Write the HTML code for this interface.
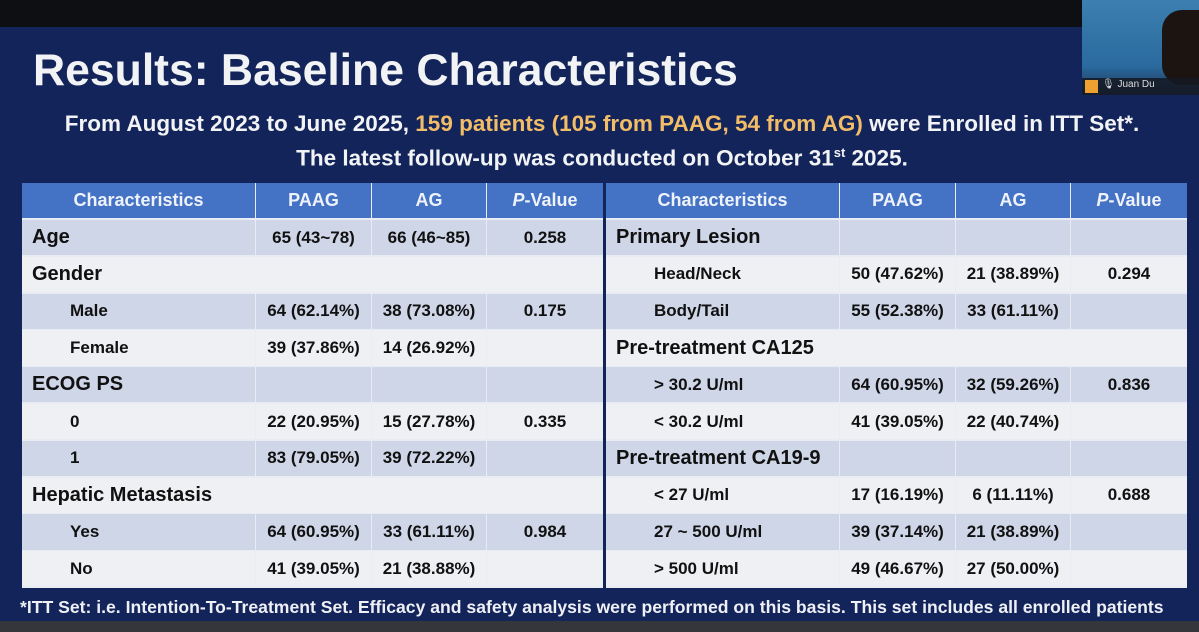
<!DOCTYPE html>
<html><head><meta charset="utf-8"><style>
*{margin:0;padding:0;box-sizing:border-box}
body{width:1199px;height:632px;overflow:hidden;background:#13245a;font-family:"Liberation Sans",sans-serif;position:relative}
.abs{position:absolute}
.topbar{left:0;top:0;width:1199px;height:27px;background:#0e0f12}
.bottom{left:0;top:621px;width:1199px;height:11px;background:#34363c}
.title{left:33px;top:46px;font-size:44.5px;font-weight:bold;color:#f2f3f5;white-space:nowrap}
.sub{left:0;width:1204px;text-align:center;font-size:22.5px;font-weight:bold;color:#f2f3f5;white-space:nowrap}
.y{color:#f2bd68}
.tbl{top:183px;width:581px;height:405px;background:#e9ecf3}
.cell{position:absolute;font-size:17px;font-weight:bold;color:#111;display:flex;align-items:center;justify-content:center;white-space:nowrap}
.hdr{background:#4472c4;color:#eef2fa;font-size:18px}
.foot{left:20px;top:597px;font-size:17.6px;font-weight:bold;color:#eef0f5;white-space:nowrap}
.cam{left:1082px;top:0;width:117px;height:95px;background:linear-gradient(180deg,#3d7fb0,#2a6a9e 70%,#1e3350);}
</style></head><body>
<div class="abs topbar"></div>
<div class="abs title">Results: Baseline Characteristics</div>
<div class="abs sub" style="top:111px">From August 2023 to June 2025, <span class="y">159 patients (105 from PAAG, 54 from AG)</span> were Enrolled in ITT Set*.</div>
<div class="abs sub" style="top:145px">The latest follow-up was conducted on October 31<sup style="font-size:13px">st</sup> 2025.</div>
<div class="abs cam">
  <div class="abs" style="left:80px;top:10px;width:40px;height:75px;background:#1b1410;border-radius:20px 0 0 20px"></div>
  <div class="abs" style="left:0;top:78px;width:117px;height:17px;background:rgba(20,25,35,.85)"></div>
  <div class="abs" style="left:3px;top:80px;width:13px;height:13px;background:#f0a030"></div>
  <div class="abs" style="left:20px;top:79px;font-size:10px;color:#ddd">🎙 Juan Du</div>
</div>
<div class="abs tbl" id="t1" style="left:22px"></div>
<div class="abs tbl" id="t2" style="left:606px"></div>
<div class="abs foot">*ITT Set: i.e. Intention-To-Treatment Set. Efficacy and safety analysis were performed on this basis. This set includes all enrolled patients</div>
<div class="abs bottom"></div>
<script>
const headers=["Characteristics","PAAG","AG","P-Value"];
const leftRows=[
["Age","65 (43~78)","66 (46~85)","0.258",0],
["Gender","","","",0],
["Male","64 (62.14%)","38 (73.08%)","0.175",1],
["Female","39 (37.86%)","14 (26.92%)","",1],
["ECOG PS","","","",0],
["0","22 (20.95%)","15 (27.78%)","0.335",1],
["1","83 (79.05%)","39 (72.22%)","",1],
["Hepatic Metastasis","","","",0],
["Yes","64 (60.95%)","33 (61.11%)","0.984",1],
["No","41 (39.05%)","21 (38.88%)","",1]];
const rightRows=[
["Primary Lesion","","","",0],
["Head/Neck","50 (47.62%)","21 (38.89%)","0.294",1],
["Body/Tail","55 (52.38%)","33 (61.11%)","",1],
["Pre-treatment CA125","","","",0],
["> 30.2 U/ml","64 (60.95%)","32 (59.26%)","0.836",1],
["< 30.2 U/ml","41 (39.05%)","22 (40.74%)","",1],
["Pre-treatment CA19-9","","","",0],
["< 27 U/ml","17 (16.19%)","6 (11.11%)","0.688",1],
["27 ~ 500 U/ml","39 (37.14%)","21 (38.89%)","",1],
["> 500 U/ml","49 (46.67%)","27 (50.00%)","",1]];
const colX=[0,233,349,464,581];
function build(id,rows,side){
  const t=document.getElementById(id);
  const hh=35, rh=36.8, top0=37;
  headers.forEach((h,i)=>{
    const c=document.createElement('div');
    c.className='cell hdr';
    c.style.left=(colX[i]+(i?1:0))+'px';c.style.top='0px';
    c.style.width=(colX[i+1]-colX[i]-(i?1:0))+'px';c.style.height=hh+'px';
    c.innerHTML=i==3?'<i>P</i>-Value':h;
    
    
    t.appendChild(c);
  });
  rows.forEach((r,ri)=>{
    const dark=ri%2===0;
    const bg=dark?'#cfd6e8':'#eef0f3';
    const y=top0+ri*rh;
    const merged=!dark && r[4]===0;
    for(let i=0;i<4;i++){
      if(merged && i>0) continue;
      const c=document.createElement('div');
      c.className='cell';
      const x=colX[i]+(i?1:0);
      c.style.left=x+'px';c.style.top=y+'px';
      c.style.width=(merged?581:(colX[i+1]-colX[i]-(i?1:0)))+'px';
      c.style.height=(rh-1.5)+'px';
      c.style.background=bg;
      if(i===0){c.style.justifyContent='flex-start';c.style.paddingLeft=(r[4]?48:10)+'px';if(!r[4])c.style.fontSize='20px';}
      c.textContent=r[i];
      
      
      t.appendChild(c);
    }
  });
}
build('t1',leftRows,'left');
build('t2',rightRows,'right');
</script>
</body></html>
